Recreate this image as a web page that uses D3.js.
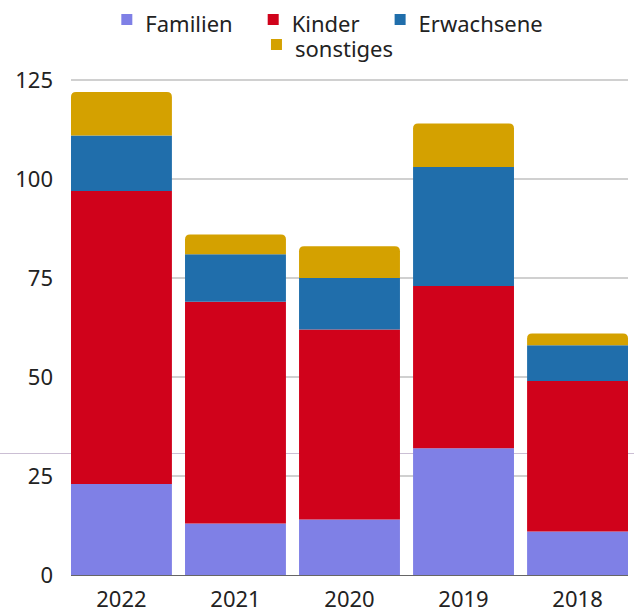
<!DOCTYPE html>
<html>
<head>
<meta charset="utf-8">
<script src="https://cdn.jsdelivr.net/npm/d3@7"></script>
<style>
  html, body { margin: 0; padding: 0; background: #fff; }
  svg { display: block; font-family: "Noto Sans", sans-serif; }
</style>
</head>
<body>
<svg id="chart" width="634" height="609"></svg>
<script>
// data
var years = ['2022', '2021', '2020', '2019', '2018'];
var seriesNames = ['Familien', 'Kinder', 'Erwachsene', 'sonstiges'];
var familien   = [23, 13, 14, 32, 11];
var kinder     = [74, 56, 48, 41, 38];
var erwachsene = [14, 12, 13, 30, 9];
var sonstiges  = [11, 5, 8, 11, 3];
var yTicks = [0, 25, 50, 75, 100, 125];

var colors = ['#7f80e6', '#d0021b', '#206eab', '#d4a100'];

var width = 634,
    height = 609,
    plotLeft = 71,
    plotRight = 628,
    plotTop = 80,
    plotBottom = 575,
    radius = 5;

var rows = years.map(function(yr, i) {
    return { year: yr, Familien: familien[i], Kinder: kinder[i], Erwachsene: erwachsene[i], sonstiges: sonstiges[i] };
});

var stacked = d3.stack().keys(seriesNames)(rows);

var x = d3.scaleBand()
    .domain(years)
    .range([plotLeft, plotRight])
    .paddingInner(0.115)
    .paddingOuter(0);

var y = d3.scaleLinear()
    .domain([0, 125])
    .range([plotBottom, plotTop]);

var svg = d3.select('#chart');

// stray rule across the page
svg.append('line')
    .attr('x1', 0).attr('x2', width)
    .attr('y1', 453.5).attr('y2', 453.5)
    .attr('stroke', '#cbbfd4')
    .attr('stroke-width', 1);

// gridlines
svg.append('g')
    .selectAll('line')
    .data(yTicks.filter(function(d) { return d > 0; }))
    .enter().append('line')
    .attr('x1', plotLeft).attr('x2', plotRight)
    .attr('y1', function(d) { return y(d); })
    .attr('y2', function(d) { return y(d); })
    .attr('stroke', '#c0c0c0')
    .attr('stroke-width', 1.3);

// zero line
svg.append('line')
    .attr('x1', plotLeft).attr('x2', plotRight)
    .attr('y1', y(0) + 0.5).attr('y2', y(0) + 0.5)
    .attr('stroke', '#666')
    .attr('stroke-width', 1);

// y axis labels
var yAxis = d3.axisLeft(y).tickValues(yTicks).tickSize(0).tickPadding(0);
var gy = svg.append('g')
    .attr('transform', 'translate(53,0)')
    .call(yAxis);
gy.select('.domain').remove();
gy.selectAll('text')
    .attr('font-size', 22)
    .attr('font-family', '"Noto Sans", sans-serif')
    .attr('fill', '#222')
    .attr('dy', '0.35em');

// x axis labels
var xAxis = d3.axisBottom(x).tickSize(0).tickPadding(0);
var gx = svg.append('g')
    .attr('transform', 'translate(0,' + plotBottom + ')')
    .call(xAxis);
gx.select('.domain').remove();
gx.selectAll('text')
    .attr('font-size', 22)
    .attr('font-family', '"Noto Sans", sans-serif')
    .attr('fill', '#222')
    .attr('dy', 0)
    .attr('y', 32);

// rounded top path
function topRounded(x0, y0, w, h, r) {
    r = Math.min(r, h, w / 2);
    return 'M' + x0 + ',' + (y0 + h) +
        'V' + (y0 + r) +
        'Q' + x0 + ',' + y0 + ' ' + (x0 + r) + ',' + y0 +
        'H' + (x0 + w - r) +
        'Q' + (x0 + w) + ',' + y0 + ' ' + (x0 + w) + ',' + (y0 + r) +
        'V' + (y0 + h) + 'Z';
}

// bars
var layers = svg.append('g')
    .selectAll('g')
    .data(stacked)
    .enter().append('g')
    .attr('fill', function(d, i) { return colors[i]; });

layers.each(function(layer, li) {
    var g = d3.select(this);
    var isTop = li === stacked.length - 1;
    g.selectAll('path')
        .data(layer)
        .enter().append('path')
        .attr('d', function(d) {
            var x0 = x(d.data.year),
                y0 = y(d[1]),
                h = y(d[0]) - y(d[1]);
            return isTop ? topRounded(x0, y0, x.bandwidth(), h, radius)
                         : 'M' + x0 + ',' + y0 + 'h' + x.bandwidth() + 'v' + h + 'h' + (-x.bandwidth()) + 'Z';
        });
});

// legend
var legend = svg.append('g');
var legendRows = [[0, 1, 2], [3]];
var legendCenter = 332;
legendRows.forEach(function(row, ri) {
    var rowG = legend.append('g');
    var cx = 0;
    row.forEach(function(si, k) {
        var item = rowG.append('g').attr('transform', 'translate(' + cx + ',0)');
        item.append('rect')
            .attr('x', 0).attr('y', -11)
            .attr('width', 11).attr('height', 11)
            .attr('fill', colors[si]);
        var t = item.append('text')
            .attr('x', 24).attr('y', 0)
            .attr('dy', '0.3em')
            .attr('font-size', 22)
            .attr('fill', '#222')
            .text(seriesNames[si]);
        cx += 24 + t.node().getComputedTextLength() + (k < row.length - 1 ? 35 : 0);
    });
    var rowY = ri === 0 ? 25 : 50;
    rowG.attr('transform', 'translate(' + (legendCenter - cx / 2) + ',' + rowY + ')');
});
</script>
</body>
</html>
